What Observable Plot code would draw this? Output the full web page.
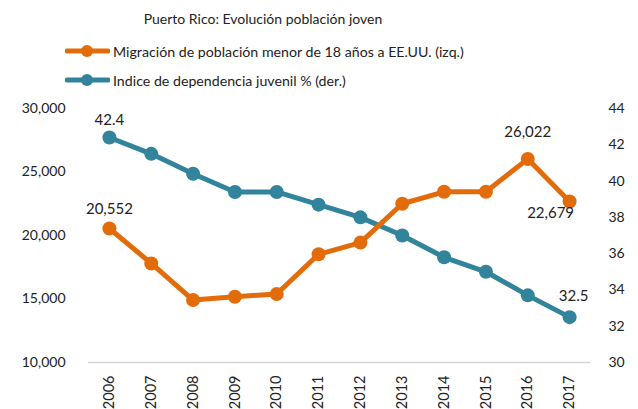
<!DOCTYPE html>
<html>
<head>
<meta charset="utf-8">
<script src="https://cdn.jsdelivr.net/npm/d3@7"></script>
<script src="https://cdn.jsdelivr.net/npm/@observablehq/plot@0.6"></script>
<style>
  body { margin: 0; background: #fff; font-family: Lato, "Open Sans", sans-serif; color: #222; }
  #wrap { position: relative; width: 638px; height: 409px; overflow: hidden; }
  #head { position: relative; height: 92px; }
  #title { position: absolute; left: 0; width: 526px; top: 10px; text-align: center; font-size: 14px; }
  .leg { position: absolute; left: 65px; display: flex; align-items: center; font-size: 14.2px; }
  .leg svg { margin-right: 3px; }
</style>
</head>
<body>
<div id="wrap">
  <div id="head">
    <div id="title">Puerto Rico: Evolución población joven</div>
    <div class="leg" style="top:41px"><svg width="45" height="20"><line x1="2" x2="43" y1="10" y2="10" stroke="#E36C0A" stroke-width="5" stroke-linecap="round"/><circle cx="22" cy="10" r="6" fill="#E36C0A"/></svg><span>Migración de población menor de 18 años a EE.UU. (izq.)</span></div>
    <div class="leg" style="top:70px"><svg width="45" height="20"><line x1="2" x2="43" y1="10" y2="10" stroke="#31849B" stroke-width="5" stroke-linecap="round"/><circle cx="22" cy="10" r="6" fill="#31849B"/></svg><span>Indice de dependencia juvenil % (der.)</span></div>
  </div>
  <div id="chart"></div>
</div>
<script>
const years = ["2006","2007","2008","2009","2010","2011","2012","2013","2014","2015","2016","2017"];
const migracion = [20552, 17800, 14920, 15180, 15390, 18520, 19440, 22500, 23440, 23450, 26022, 22679];
const dependencia = [42.4, 41.5, 40.4, 39.4, 39.4, 38.7, 38.0, 37.0, 35.8, 35.0, 33.7, 32.5];
const leftTicks = [10000, 15000, 20000, 25000, 30000];
const rightTicks = [30, 32, 34, 36, 38, 40, 42, 44];
const labelsMig = [
  {year: "2006", value: 20552, text: "20,552"},
  {year: "2016", value: 26022, text: "26,022"},
  {year: "2017", value: 22679, text: "22,679"}
];
const labelsDep = [
  {year: "2006", value: 42.4, text: "42.4"},
  {year: "2017", value: 32.5, text: "32.5"}
];
const offMig = [[0, -19], [0, -27], [-19, 12]];
const offDep = [[0, -17], [4, -21]];

const orange = "#E36C0A";
const teal = "#31849B";
// map right-axis values (30–44) onto the left scale (10,000–30,000)
const toLeft = v => 10000 + (v - 30) * (20000 / 14);
const fromLeft = y => 30 + (y - 10000) * (14 / 20000);

const mig = years.map((y, i) => ({year: y, value: migracion[i]}));
const dep = years.map((y, i) => ({year: y, value: toLeft(dependencia[i])}));
const fmt = d3.format(",");

const chart = Plot.plot({
  width: 638,
  height: 317,
  marginTop: 16,
  marginBottom: 47,
  marginLeft: 88,
  marginRight: 48,
  style: {fontFamily: "Lato, 'Open Sans', sans-serif", fontSize: "14px", color: "#222"},
  x: {type: "point", domain: years, padding: 0.5, round: false, label: null},
  y: {domain: [10000, 30000], label: null},
  marks: [
    Plot.ruleY([10000], {stroke: "#d4d4d4", strokeWidth: 1.5}),
    Plot.axisY({ticks: leftTicks, tickFormat: fmt, tickSize: 0, tickPadding: 23, fontSize: 14, label: null}),
    Plot.axisY({anchor: "right", ticks: rightTicks.map(toLeft), tickFormat: d => String(Math.round(fromLeft(d))), tickSize: 0, tickPadding: 18, fontSize: 14, label: null}),
    Plot.axisX({tickRotate: -90, tickSize: 0, tickPadding: 13, fontSize: 14.5, textAnchor: "end", label: null}),
    Plot.line(dep, {x: "year", y: "value", stroke: teal, strokeWidth: 5}),
    Plot.dot(dep, {x: "year", y: "value", fill: teal, r: 7}),
    Plot.line(mig, {x: "year", y: "value", stroke: orange, strokeWidth: 5}),
    Plot.dot(mig, {x: "year", y: "value", fill: orange, r: 7}),
    ...labelsMig.map((l, i) => Plot.text([l], {x: "year", y: "value", text: "text", dx: offMig[i][0], dy: offMig[i][1], fontSize: 15, fill: "#222"})),
    ...labelsDep.map((l, i) => Plot.text([l], {x: "year", y: d => toLeft(d.value), text: "text", dx: offDep[i][0], dy: offDep[i][1], fontSize: 15, fill: "#222"}))
  ]
});
document.getElementById("chart").appendChild(chart);
</script>
</body>
</html>
